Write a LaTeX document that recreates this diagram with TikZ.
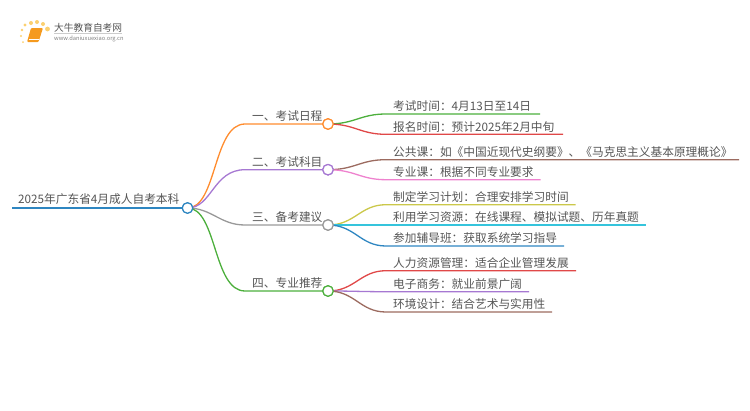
\documentclass[tikz,border=0pt]{standalone}
\usepackage{fontspec}
\setmainfont{Noto Sans CJK SC}
\definecolor{txt}{HTML}{555555}
\definecolor{cblue}{HTML}{2E86C1}
\definecolor{corange}{HTML}{FF8C2E}
\definecolor{cpurple}{HTML}{A678D2}
\definecolor{cgray}{HTML}{999999}
\definecolor{cgreen}{HTML}{4CAF3C}
\definecolor{cred}{HTML}{E04848}
\definecolor{cbrown}{HTML}{9C6B60}
\definecolor{cpink}{HTML}{EE82CE}
\definecolor{colive}{HTML}{CBC84A}
\definecolor{ccyan}{HTML}{35C4DC}
\definecolor{cbook}{HTML}{F59A1E}
\definecolor{cdot}{HTML}{FBD070}
\tikzset{
  x=1pt,y=-1pt,
  label/.style={anchor=base west,inner sep=0pt,text=txt,font=\fontsize{11.7}{12}\selectfont},
  hub/.style={circle,draw=#1,fill=white,line width=1.2pt,minimum size=10.5pt,inner sep=0pt},
  wire/.style={draw=#1,line width=1.3pt},
}
\begin{document}
\begin{tikzpicture}
\useasboundingbox (0,0) rectangle (750,410);
% logo
\fill[cdot] (25,25) circle (1.7) (31,23) circle (2) (37,22) circle (2) (43,24) circle (2) (47.5,29) circle (2.4) (22,30) circle (1.4) (21,36) circle (1.2) (23,42) circle (1);
\fill[cbook,rounded corners=1pt] (31,28) -- (43,28) -- (38.5,42) -- (27,42) -- cycle;
\draw[white,line width=.5pt] (29,39.5) -- (39,39.5);
\node[inner sep=0pt,anchor=base west,text=txt,font=\fontsize{9.7}{10}\selectfont] (brand) at (54,31) {大牛教育自考网};
\draw[black!20,line width=.4pt] (54,33.5) -- (122,33.5);
\node[inner sep=0pt,anchor=base west,text=gray,font=\fontsize{5.75}{6}\selectfont] (url) at (54,40.5) {www.daniuxuexiao.org.cn};
% coordinates
\coordinate (r0) at (12,208);
\coordinate (b1) at (245,124);
\coordinate (b2) at (245,169.7);
\coordinate (b3) at (245,225);
\coordinate (b4) at (245,291);
\node[hub=cblue] (R) at (187.5,208) {};
\node[hub=corange] (H1) at (328,124) {};
\node[hub=cpurple] (H2) at (328,169.7) {};
\node[hub=cgray] (H3) at (328,225) {};
\node[hub=cgreen] (H4) at (328,291) {};
% root and branches
\draw[wire=cblue] (r0) -- (R);
\draw[wire=corange] (R.center) .. controls (217,208) and (213,124) .. (b1) -- (H1);
\draw[wire=cpurple] (R.center) .. controls (212,208) and (213,169.7) .. (b2) -- (H2);
\draw[wire=cgray] (R.center) .. controls (212,208) and (220,225) .. (b3) -- (H3);
\draw[wire=cgreen] (R.center) .. controls (217,208) and (213,291) .. (b4) -- (H4);
% leaves
\foreach \n/\hubn/\y/\e/\c/\t in {
 1/H1/114/540/cgreen/考试时间：4月13日至14日,
 2/H1/134.3/563/cred/报名时间：预计2025年2月中旬,
 3/H2/159.7/739/cbrown/公共课：如《中国近现代史纲要》、《马克思主义基本原理概论》,
 4/H2/179.7/540.7/cpink/专业课：根据不同专业要求,
 5/H3/204.7/575.7/colive/制定学习计划：合理安排学习时间,
 6/H3/225/645.7/ccyan/利用学习资源：在线课程、模拟试题、历年真题,
 7/H3/246/564/cblue/参加辅导班：获取系统学习指导,
 8/H4/270.7/576/cred/人力资源管理：适合企业管理发展,
 9/H4/291.7/529/cpurple/电子商务：就业前景广阔,
 10/H4/312/552/cbrown/环境设计：结合艺术与实用性}{
  \coordinate (s\n) at (386,\y);
  \coordinate (e\n) at (\e,\y);
  \draw[wire=\c] (\hubn.center) .. controls ++(27,0) and (360,\y) .. (s\n) -- (e\n);
  \node[label] (t\n) at (393,\y-3.2) {\t};
}
% hubs on top
\node[hub=cblue] at (R) {};
\node[hub=corange] at (H1) {};
\node[hub=cpurple] at (H2) {};
\node[hub=cgray] at (H3) {};
\node[hub=cgreen] at (H4) {};
% labels
\node[label] (root) at (18,203.2) {2025年广东省4月成人自考本科};
\node[label] (n1) at (252,120.8) {一、考试日程};
\node[label] (n2) at (252,166.5) {二、考试科目};
\node[label] (n3) at (252,221.8) {三、备考建议};
\node[label] (n4) at (252,287.8) {四、专业推荐};
\end{tikzpicture}
\end{document}
